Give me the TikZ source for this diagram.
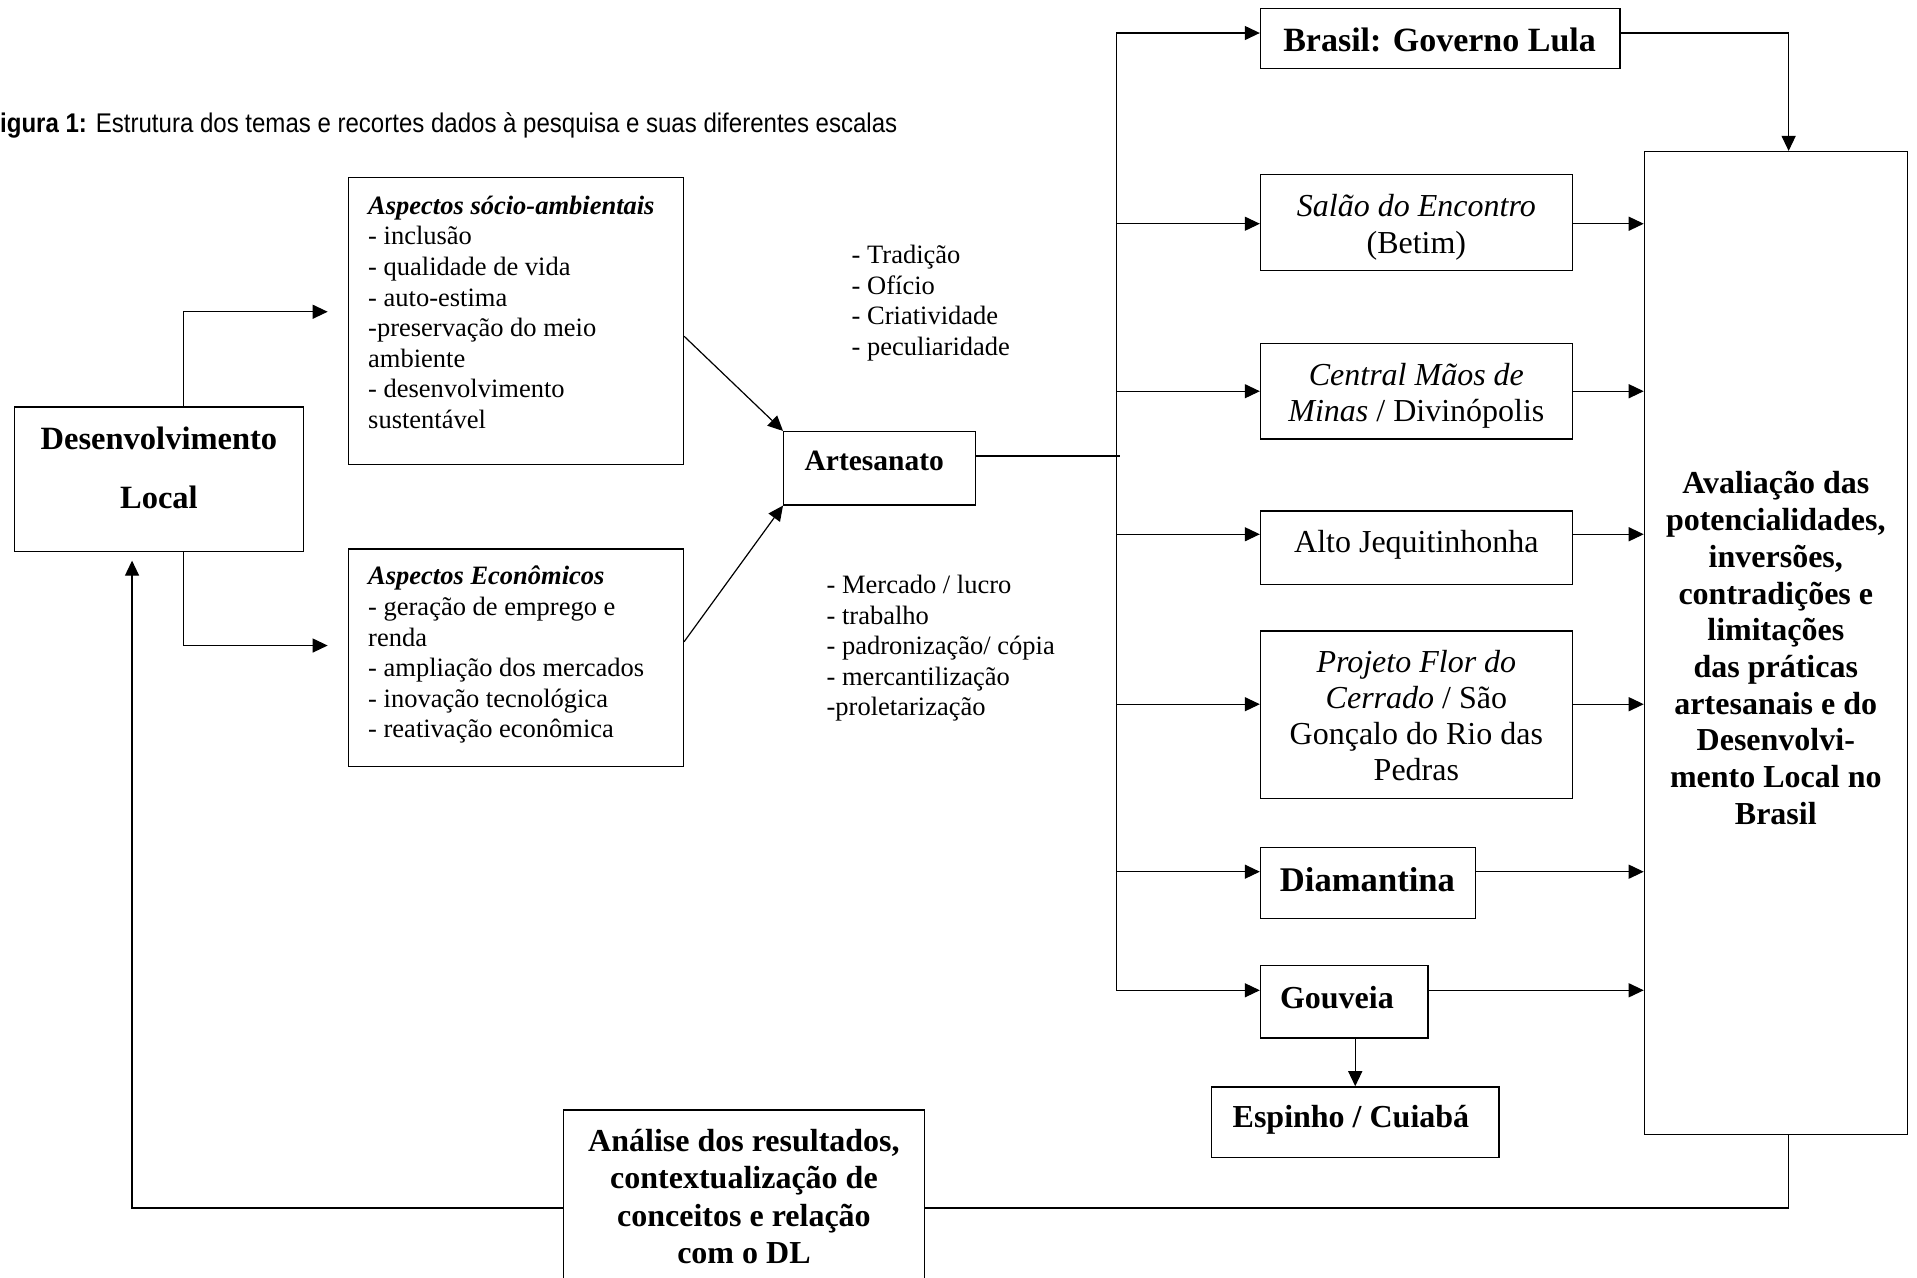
\documentclass[tikz,border=0pt]{standalone}
\usepackage{fontspec}
\setmainfont{Liberation Serif}
\newfontfamily\capfont[FakeStretch=0.89]{Liberation Sans}
\usetikzlibrary{arrows.meta,fit,calc}
\begin{document}
\begin{tikzpicture}[x=1.2226pt,y=-1.2226pt,
  box/.style={draw, line width=1.3pt, inner sep=0pt},
  arr/.style={line width=1.2pt, -{Triangle[length=15pt,width=14pt]}},
  ln/.style={line width=1.2pt},
  txt/.style={inner sep=0pt},
  fs/.style={txt, font=\fontsize{26.5}{30.6}\selectfont, align=left, anchor=base west},
  fm/.style={txt, font=\fontsize{32}{36.2}\selectfont, align=center, anchor=base},
  fb/.style={txt, font=\fontsize{32}{36.7}\selectfont\bfseries, align=center, anchor=base},
  ]
\useasboundingbox (0,0) rectangle (1568,1045);

% caption
\node[txt, font=\capfont\fontsize{27}{32}\selectfont, anchor=base west] (cap) at (0,108)
  {\textbf{igura 1:} Estrutura dos temas e recortes dados à pesquisa e suas diferentes escalas};

% boxes
\node[box, fit={(12,333) (248,451)}] (dl) {};
\node[box, fit={(285,145) (559,380)}] (socio) {};
\node[box, fit={(285,449) (559,627)}] (econ) {};
\node[box, fit={(641,353) (798,413)}] (art) {};
\node[box, fit={(1031,7) (1325,56)}] (brasil) {};
\node[box, fit={(1031,143) (1286,221)}] (salao) {};
\node[box, fit={(1031,281) (1286,359)}] (central) {};
\node[box, fit={(1031,418) (1286,478)}] (alto) {};
\node[box, fit={(1031,516) (1286,653)}] (projeto) {};
\node[box, fit={(1031,693) (1207,751)}] (diam) {};
\node[box, fit={(1031,790) (1168,849)}] (gouv) {};
\node[box, fit={(991,889) (1226,947)}] (esp) {};
\node[box, fit={(1345,124) (1560,928)}] (aval) {};
\node[box, fit={(461,908) (756,1090)}] (anal) {};

% texts (anchor base = baseline of the last line)
\node[txt, font=\fontsize{32.5}{58.4}\selectfont\bfseries, align=center, anchor=base] (dlT) at (130,415.8) {Desenvolvimento\\Local};
\node[fs] (socioT) at (301,350.5) {\textbf{\textit{Aspectos sócio-ambientais}}\\- inclusão\\- qualidade de vida\\- auto-estima\\-preservação do meio\\ambiente\\- desenvolvimento\\sustentável};
\node[fs] (econT) at (301,603.5) {\textbf{\textit{Aspectos Econômicos}}\\- geração de emprego e\\renda\\- ampliação dos mercados\\- inovação tecnológica\\- reativação econômica};
\node[txt, font=\fontsize{29.5}{35}\selectfont\bfseries, anchor=base west] (artT) at (658,384.5) {Artesanato};
\node[fs] (tradT) at (696.5,290.6) {- Tradição\\- Ofício\\- Criatividade\\- peculiaridade};
\node[fs] (mercT) at (676,585.6) {- Mercado / lucro\\- trabalho\\- padronização/ cópia\\- mercantilização\\-proletarização};

\node[txt, font=\fontsize{34}{40}\selectfont\bfseries, anchor=base] (brasilT) at (1177.5,42) {Brasil: Governo Lula};
\node[fm] (salaoT) at (1158.5,207) {\textit{Salão do Encontro}\\(Betim)};
\node[fm] (centralT) at (1158.5,344.6) {\textit{Central Mãos de}\\\textit{Minas} / Divinópolis};
\node[fm] (altoT) at (1158.5,452) {Alto Jequitinhonha};
\node[fm] (projetoT) at (1158.5,638.5) {\textit{Projeto Flor do}\\\textit{Cerrado} / São\\Gonçalo do Rio das\\Pedras};
\node[txt, font=\fontsize{34.6}{40}\selectfont\bfseries, anchor=base] (diamT) at (1118.5,729) {Diamantina};
\node[fb] (gouvT) at (1093.5,825) {Gouveia};
\node[fb] (espT) at (1105,922.6) {Espinho / Cuiabá};
\node[fb] (avalT) at (1452.5,674.2) {Avaliação das\\potencialidades,\\inversões,\\contradições e\\limitações\\das práticas\\artesanais e do\\Desenvolvi-\\mento Local no\\Brasil};
\node[txt, font=\fontsize{32}{37.3}\selectfont\bfseries, align=center, anchor=base] (analT) at (608.5,1033.5) {Análise dos resultados,\\contextualização de\\conceitos e relação\\com o DL};

% coordinates
\coordinate (j1) at (150,255); \coordinate (t1) at (268,255);
\coordinate (j2) at (150,528); \coordinate (t2) at (268,528);
\coordinate (tk) at (913,373); \coordinate (tke) at (916,373);
\coordinate (b1) at (913,27);
\coordinate (b2) at (913,183);
\coordinate (b3) at (913,320);
\coordinate (b4) at (913,437);
\coordinate (b5) at (913,576);
\coordinate (b6) at (913,713);
\coordinate (b7) at (913,810);
\coordinate (lr) at (1463,988);
\coordinate (ll) at (108,988);

% connectors
\draw[arr] (dl.north -| j1) |- (t1);
\draw[arr] (dl.south -| j2) |- (t2);
\draw[arr] ($(socio.north east)!0.553!(socio.south east)$) -- (art.north west);
\draw[arr] ($(econ.north east)!0.427!(econ.south east)$) -- (art.south west);
\draw[ln] (art.east |- tke) -- (tke);
\draw[arr] (tk) -- (b1) -- (brasil.west |- b1);
\draw[arr] (b2) -- (salao.west |- b2);
\draw[arr] (b3) -- (central.west |- b3);
\draw[arr] (b4) -- (alto.west |- b4);
\draw[arr] (b5) -- (projeto.west |- b5);
\draw[arr] (b6) -- (diam.west |- b6);
\draw[arr] (tk) -- (b7) -- (gouv.west |- b7);
\draw[arr] (salao.east |- b2) -- (aval.west |- b2);
\draw[arr] (central.east |- b3) -- (aval.west |- b3);
\draw[arr] (alto.east |- b4) -- (aval.west |- b4);
\draw[arr] (projeto.east |- b5) -- (aval.west |- b5);
\draw[arr] (diam.east |- b6) -- (aval.west |- b6);
\draw[arr] (gouv.east |- b7) -- (aval.west |- b7);
\draw[arr] (brasil.east |- b1) -| (aval.north -| lr);
\draw[arr] (esp.north |- gouv.south) -- (esp.north);
\draw[ln] (aval.south -| lr) -- (lr) -- (anal.east |- lr);
\draw[arr, shorten >=8.6pt] (anal.west |- ll) -- (ll) -- (dl.south -| ll);
\end{tikzpicture}
\end{document}
